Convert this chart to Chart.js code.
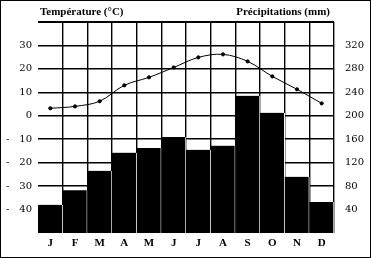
<!DOCTYPE html>
<html>
<head>
<meta charset="utf-8">
<script src="https://cdn.jsdelivr.net/npm/chart.js@4/dist/chart.umd.min.js"></script>
<style>
  html, body { margin: 0; padding: 0; background: #fff; }
  #wrap { width: 371px; height: 258px; }
</style>
</head>
<body>
<div id="wrap"><canvas id="clima"></canvas></div>
<script>
var meses = ["J", "F", "M", "A", "M", "J", "J", "A", "S", "O", "N", "D"];
var temperatura = [3.2, 4.0, 6.2, 13, 16.4, 20.6, 24.9, 26.2, 23.2, 16.8, 11.3, 5.3];
var precipitaciones = [48, 73, 106, 137, 145, 164, 142, 149, 234, 205, 96, 53];
var ticksTemp = [-40, -30, -20, -10, 0, 10, 20, 30];
var ticksPrecip = [40, 80, 120, 160, 200, 240, 280, 320];

var fuente = "'Liberation Serif', 'DejaVu Serif', serif";
var fuenteNum = "'DejaVu Serif', serif";

// titulos y marco
var extras = {
  id: "extras",
  afterDraw: function(chart) {
    var ctx = chart.ctx;
    var area = chart.chartArea;
    ctx.save();
    ctx.fillStyle = "#000";
    ctx.font = "bold 11px " + fuente;
    ctx.textBaseline = "middle";
    ctx.textAlign = "left";
    ctx.fillText("Température (°C)", area.left + 2, 12);
    ctx.textAlign = "right";
    ctx.fillText("Précipitations (mm)", area.right - 4, 12);
    ctx.strokeStyle = "#000";
    ctx.lineWidth = 1;
    ctx.strokeRect(0.5, 0.5, chart.width - 1, chart.height - 1);
    ctx.restore();
  }
};

new Chart(document.getElementById("clima"), {
  data: {
    labels: meses,
    datasets: [{
      type: "line",
      label: "Température",
      data: temperatura,
      yAxisID: "t",
      borderColor: "#000",
      backgroundColor: "#000",
      borderWidth: 1,
      pointRadius: 1.6,
      tension: 0.35,
      order: 0
    }, {
      type: "bar",
      label: "Précipitations",
      data: precipitaciones,
      yAxisID: "p",
      backgroundColor: "#000",
      borderColor: "#fff",
      borderWidth: { right: 1, left: 0, top: 0, bottom: 0 },
      borderSkipped: false,
      barPercentage: 1,
      categoryPercentage: 1,
      order: 1
    }]
  },
  options: {
    responsive: true,
    maintainAspectRatio: false,
    animation: false,
    layout: { padding: { top: 22, left: 0, right: 0, bottom: 0 } },
    plugins: { legend: { display: false }, tooltip: { enabled: false } },
    scales: {
      x: {
        grid: {
          offset: true,
          color: function(c) { return (c.index === 0 || c.index === 12) ? "transparent" : "#000"; },
          lineWidth: 1.4,
          drawTicks: false
        },
        border: { display: false },
        ticks: { color: "#000", font: { family: fuente, size: 11, weight: "bold" }, padding: 4 },
        afterFit: function(s) { s.height = 25; }
      },
      t: {
        position: "left",
        min: -50,
        max: 40,
        ticks: {
          stepSize: 10,
          color: "#000",
          padding: 6,
          font: { family: fuenteNum, size: 10 },
          callback: function(v) {
            if (ticksTemp.indexOf(v) < 0) return "";
            return v < 0 ? "-\u2002\u2002" + Math.abs(v) : String(v);
          }
        },
        grid: {
          color: function(c) { return c.tick && c.tick.value === -50 ? "transparent" : "#000"; },
          lineWidth: function(c) { return c.tick && c.tick.value === 40 ? 2 : 1.6; },
          drawTicks: false
        },
        border: { display: false },
        afterFit: function(s) { s.width = 38; }
      },
      p: {
        position: "right",
        min: 0,
        max: 360,
        ticks: {
          stepSize: 40,
          color: "#000",
          padding: 11,
          font: { family: fuenteNum, size: 10 },
          callback: function(v) { return ticksPrecip.indexOf(v) < 0 ? "" : String(v); }
        },
        grid: { display: false, drawTicks: false },
        border: { display: false },
        afterFit: function(s) { s.width = 37; }
      }
    }
  },
  plugins: [extras]
});
</script>
</body>
</html>
